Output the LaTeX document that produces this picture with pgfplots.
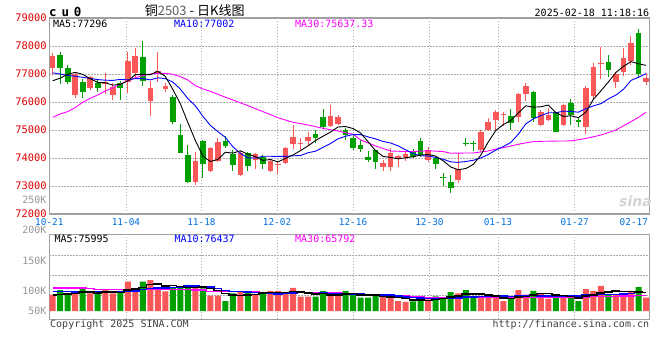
\documentclass[border=0pt]{standalone}
\usepackage{pgfplots}
\usepackage{pgfplotstable}
\pgfplotsset{compat=1.18}
\usepackage{fontspec}
\setmainfont{DejaVu Sans Mono}
\newfontfamily\cjk{Noto Sans CJK SC}
\newfontfamily\sinaf{DejaVu Sans}
\definecolor{cred}{RGB}{250,88,88}
\definecolor{cgreen}{RGB}{0,160,0}
\definecolor{lblred}{RGB}{224,0,0}
\definecolor{lblblue}{RGB}{0,112,224}
\definecolor{gridc}{RGB}{170,170,170}
\definecolor{framec}{RGB}{160,160,160}
\definecolor{volgray}{RGB}{150,150,150}
\definecolor{maten}{RGB}{0,0,255}
\definecolor{mathirty}{RGB}{255,0,255}
\definecolor{txtgray}{RGB}{64,64,64}

% OHLC, up days (close > open)
\pgfplotstableread{
i o h l c
0 77200 77760 76950 77640
3 76240 77030 76130 76990
5 76510 76930 76430 76880
7 76650 77020 76300 76700
8 76250 76670 76070 76550
10 76700 77800 76310 77480
11 77050 77920 76900 77640
13 76040 76750 75510 76510
14 76990 77770 76730 77110
15 76465 76670 76370 76570
19 73160 74230 73040 73900
21 73540 74410 73510 74350
22 73900 74730 73870 74560
25 73390 74250 73360 74190
27 73930 74170 73610 74130
29 73540 73930 73510 73900
30 73740 73870 73420 73770
31 73810 74410 73790 74350
32 74490 75180 74310 74750
33 74510 74730 74250 74550
34 74610 74940 74470 74740
37 75140 75890 75100 75500
38 75210 75540 75180 75450
44 73690 73930 73540 73810
45 73690 74350 73540 74190
46 74010 74110 73690 74070
47 74050 74230 73900 74140
50 73930 74410 73870 74290
54 73220 74170 73120 73610
57 74290 75000 74230 74940
58 75000 75420 74960 75300
59 75360 75720 75000 75660
60 75540 75660 75130 75560
62 75470 76330 75270 76280
63 76280 76670 76040 76580
65 75180 75720 75160 75630
66 75360 75800 75320 75540
68 75180 75920 75160 75890
71 75090 76570 74850 76510
72 76220 77400 76070 77260
73 77350 77980 76820 77380
75 76730 77080 76510 77000
76 77080 77920 76930 77580
77 77460 78370 77320 78120
79 76730 77020 76610 76850
}\redtab

% OHLC, down days (close < open)
\pgfplotstableread{
i o h l c
1 77680 77800 76630 77200
2 77230 77320 76630 76730
4 76720 76820 76130 76370
6 76690 76790 76370 76510
9 76690 76760 76070 76510
12 77600 78180 76580 76750
16 76180 76250 75220 75300
17 74820 75220 74190 74190
18 74110 74470 73100 73160
20 74610 74640 73300 73780
23 74610 74800 74350 74440
24 74130 74290 73540 73750
26 74170 74230 73540 73730
28 74050 74110 73610 73780
35 74860 75000 74530 74730
36 75450 75740 75060 75120
39 75000 75060 74640 74820
40 74730 74850 74290 74370
41 74470 74650 74230 74320
42 74040 74250 73870 73940
43 74290 74290 73610 73840
48 74200 74310 73990 74020
49 74610 74700 74050 74110
51 73990 74050 73610 73780
52 73320 73450 73010 73300
53 73160 73400 72760 72920
55 74550 74700 74440 74510
56 74530 74610 74250 74510
61 75510 75740 75000 75240
64 76360 76390 75300 75420
67 75630 75630 74920 74940
69 75950 76100 75180 75540
70 75360 75440 75120 75300
74 77440 77680 76900 77140
78 78480 78610 76870 76990
}\greentab

% volume (thousands)
\pgfplotstableread{
i v
0 67
3 72
5 72
7 89
8 72
10 120
11 89
13 127
14 98
15 80
19 96
21 63
22 63
25 80
27 70
29 82
30 82
31 72
32 95
33 59
34 59
37 64
38 62
44 58
45 55
46 41
47 37
50 48
54 72
57 55
58 55
59 55
60 41
62 86
63 67
65 69
66 51
68 55
71 90
72 82
73 103
75 69
76 73
77 82
79 55
}\redvol

\pgfplotstableread{
i v
1 86
2 69
4 91
6 69
9 82
12 120
16 96
17 98
18 107
20 93
23 41
24 72
26 75
28 72
35 59
36 82
39 82
40 70
41 55
42 55
43 64
48 39
49 55
51 60
52 51
53 77
55 86
56 59
61 52
64 82
67 62
69 58
70 41
74 69
78 98
}\greenvol

\pgfplotsset{
  candle/.style n args={2}{draw=none, no markers, forget plot,
    error bars/.cd, y dir=plus, y explicit, error mark=none,
    error bar style={draw=#1, solid, line width=#2}},
}

\begin{document}
\begin{tikzpicture}[x=1pt,y=1pt]
\path[use as bounding box] (0,0) rectangle (660,360);

% ---------------- price panel ----------------
\begin{axis}[
  at={(49.3pt,146pt)}, anchor=south west,
  scale only axis, width=600pt, height=196pt,
  xmin=-0.45, xmax=79.44, ymin=72000, ymax=79000,
  axis line style={framec, line width=1.1pt},
  major tick length=0pt,
  scaled y ticks=false, scaled x ticks=false,
  /pgf/number format/assume math mode=true,
  xtick={-0.45,9.76,19.81,29.87,39.99,50.17,59.29,69.51,77.38},
  xticklabels={10-21,11-04,11-18,12-02,12-16,12-30,01-13,01-27,02-17},
  xticklabel style={font=\fontsize{9.4}{10}\selectfont, text=lblblue, inner sep=0pt, anchor=north, yshift=-4pt},
  ytick={72000,73000,74000,75000,76000,77000,78000,79000},
  yticklabels={72000,73000,74000,75000,76000,77000,78000,79000},
  yticklabel style={font=\fontsize{10.4}{11}\selectfont, text=lblred, inner sep=0pt, anchor=east, xshift=-2.5pt},
  ymajorgrids,
  extra x ticks={9.76,19.81,29.87,39.99,50.17,59.29,69.51},
  extra x tick labels={},
  extra x tick style={grid=major},
  grid style={gridc, line width=0.8pt, dash pattern=on 1.3pt off 1.7pt},
]
% wicks
\addplot[candle={cred}{1pt}] table[x=i, y=l, y error plus expr=\thisrow{h}-\thisrow{l}] \redtab;
\addplot[candle={cgreen}{1pt}] table[x=i, y=l, y error plus expr=\thisrow{h}-\thisrow{l}] \greentab;
% bodies
\addplot[candle={cred}{5.6pt}] table[x=i, y=o, y error plus expr=\thisrow{c}-\thisrow{o}] \redtab;
\addplot[candle={cgreen}{5.6pt}] table[x=i, y=c, y error plus expr=\thisrow{o}-\thisrow{c}] \greentab;
% MA30
\addplot[mathirty, line width=0.9pt, mark=none] coordinates {
(0,75453)(1,75572)(2,75656)(3,75800)(4,75989)(5,76132)(6,76250)(7,76393)(8,76512)(9,76643)
(10,76750)(11,76870)(12,76940)(13,77000)(14,77024)(15,77024)(16,76990)(17,76905)(18,76786)(19,76584)
(20,76465)(21,76380)(22,76275)(23,76170)(24,76072)(25,75970)(26,75870)(27,75760)(28,75656)(29,75550)
(30,75440)(31,75355)(32,75275)(33,75230)(34,75180)(35,75120)(36,75060)(37,75010)(38,74965)(39,74900)
(40,74850)(41,74645)(42,74540)(43,74430)(44,74340)(45,74250)(46,74240)(47,74235)(48,74230)(49,74245)
(50,74260)(51,74245)(52,74230)(53,74170)(54,74175)(55,74178)(56,74180)(57,74215)(58,74250)(59,74320)
(60,74370)(61,74430)(62,74490)(63,74540)(64,74585)(65,74595)(66,74600)(67,74605)(68,74608)(69,74610)
(70,74655)(71,74700)(72,74760)(73,74820)(74,74910)(75,75000)(76,75150)(77,75300)(78,75450)(79,75637)
};
% MA10
\addplot[maten, line width=0.9pt, mark=none] coordinates {
(0,77040)(1,77000)(2,76950)(3,76920)(4,76880)(5,76840)(6,76800)(7,76780)(8,76770)(9,76808)
(10,76792)(11,76836)(12,76838)(13,76790)(14,76864)(15,76833)(16,76712)(17,76461)(18,76122)(19,75861)
(20,75491)(21,75162)(22,74943)(23,74736)(24,74400)(25,74162)(26,74005)(27,73999)(28,74061)(29,74061)
(30,74060)(31,74060)(32,74079)(33,74090)(34,74189)(35,74243)(36,74382)(37,74519)(38,74686)(39,74778)
(40,74838)(41,74835)(42,74754)(43,74683)(44,74590)(45,74536)(46,74431)(47,74295)(48,74152)(49,74081)
(50,74073)(51,74019)(52,73955)(53,73863)(54,73843)(55,73875)(56,73919)(57,73999)(58,74127)(59,74282)
(60,74409)(61,74555)(62,74853)(63,75219)(64,75400)(65,75512)(66,75615)(67,75615)(68,75674)(69,75662)
(70,75636)(71,75763)(72,75861)(73,75941)(74,76113)(75,76250)(76,76454)(77,76772)(78,76882)(79,77013)
};
% MA5
\addplot[black, line width=0.9pt, mark=none] coordinates {
(0,76760)(1,76850)(2,76990)(3,77060)(4,76986)(5,76834)(6,76696)(7,76690)(8,76602)(9,76630)
(10,76750)(11,76976)(12,76986)(13,76978)(14,77098)(15,76916)(16,76448)(17,75936)(18,75266)(19,74624)
(20,74066)(21,73876)(22,73950)(23,74206)(24,74176)(25,74258)(26,74134)(27,74048)(28,73916)(29,73946)
(30,73862)(31,73986)(32,74110)(33,74264)(34,74432)(35,74624)(36,74778)(37,74928)(38,75108)(39,75124)
(40,75052)(41,74892)(42,74580)(43,74258)(44,74056)(45,74020)(46,73970)(47,74010)(48,74046)(49,74106)
(50,74126)(51,74068)(52,73900)(53,73680)(54,73580)(55,73624)(56,73770)(57,74098)(58,74574)(59,74984)
(60,75194)(61,75340)(62,75608)(63,75864)(64,75816)(65,75830)(66,75890)(67,75622)(68,75484)(69,75508)
(70,75442)(71,75636)(72,76100)(73,76398)(74,76718)(75,77058)(76,77272)(77,77444)(78,77366)(79,77308)
};
\end{axis}

% ---------------- volume panel ----------------
\begin{axis}[
  at={(49.3pt,40.7pt)}, anchor=south west,
  scale only axis, width=600pt, height=85pt,
  xmin=-0.45, xmax=79.44, ymin=-34, ymax=314.3,
  axis line style={framec, line width=1.1pt},
  major tick length=0pt,
  scaled y ticks=false, scaled x ticks=false,
  xtick=\empty, ytick=\empty,
  extra x ticks={9.76,19.81,29.87,39.99,50.17,59.29,69.51},
  extra x tick labels={},
  extra x tick style={grid=major},
  extra y ticks={63.5,146.3,229.5},
  extra y tick labels={},
  extra y tick style={grid=major},
  grid style={gridc, line width=0.8pt, dash pattern=on 1.3pt off 1.7pt},
]
\addplot[ybar, bar width=6pt, bar shift=0pt, fill=cred, draw=none] table[x=i, y=v] \redvol;
\addplot[ybar, bar width=6pt, bar shift=0pt, fill=cgreen, draw=none] table[x=i, y=v] \greenvol;
% volume MA30
\addplot[mathirty, line width=1.5pt, mark=none, const plot mark mid] coordinates {
(0,95)(1,95)(2,95)(3,95)(4,94)(5,92)(6,89)(7,89)(8,89)(9,89)
(10,89)(11,89)(12,89)(13,89)(14,89)(15,89)(16,88)(17,88)(18,88)(19,87)
(20,86)(21,80)(22,80)(23,79)(24,79)(25,79)(26,78)(27,77)(28,76)(29,76)
(30,76)(31,76)(32,76)(33,76)(34,76)(35,76)(36,75)(37,75)(38,74)(39,72)
(40,71)(41,66)(42,66)(43,65)(44,65)(45,62)(46,62)(47,61)(48,60)(49,57)
(50,56)(51,56)(52,56)(53,56)(54,56)(55,56)(56,56)(57,56)(58,56)(59,56)
(60,56)(61,56)(62,56)(63,56)(64,56)(65,56)(66,56)(67,56)(68,56)(69,56)
(70,57)(71,58)(72,59)(73,59)(74,60)(75,60)(76,61)(77,62)(78,63)(79,64)
};
% volume MA10
\addplot[maten, line width=1.5pt, mark=none, const plot mark mid] coordinates {
(0,79)(1,79)(2,79)(3,78)(4,78)(5,78)(6,77)(7,77)(8,77)(9,76.9)
(10,82.2)(11,82.5)(12,87.6)(13,93.1)(14,93.8)(15,94.6)(16,97.3)(17,98.2)(18,101.7)(19,103.1)
(20,100.4)(21,97.8)(22,92.1)(23,83.5)(24,80.9)(25,80.9)(26,78.8)(27,76.0)(28,72.5)(29,71.1)
(30,70.0)(31,70.9)(32,74.1)(33,75.9)(34,74.6)(35,72.5)(36,73.2)(37,72.6)(38,71.6)(39,71.6)
(40,70.4)(41,68.7)(42,64.7)(43,65.2)(44,65.1)(45,64.7)(46,60.6)(47,57.9)(48,55.6)(49,52.9)
(50,50.7)(51,51.2)(52,50.8)(53,52.1)(54,53.5)(55,56.6)(56,58.4)(57,60.2)(58,61.8)(59,61.8)
(60,61.1)(61,60.3)(62,63.8)(63,62.8)(64,63.8)(65,62.1)(66,61.3)(67,62.0)(68,62.0)(69,62.3)
(70,62.3)(71,66.1)(72,65.7)(73,69.3)(74,68.0)(75,68.0)(76,70.2)(77,72.2)(78,76.5)(79,76.2)
};
% volume MA5
\addplot[black, line width=1.5pt, mark=none, const plot mark mid] coordinates {
(0,66)(1,67)(2,70)(3,72)(4,77.0)(5,78.0)(6,74.6)(7,78.6)(8,78.6)(9,76.8)
(10,86.4)(11,90.4)(12,96.6)(13,107.6)(14,110.8)(15,102.8)(16,104.2)(17,99.8)(18,95.8)(19,95.4)
(20,98.0)(21,91.4)(22,84.4)(23,71.2)(24,66.4)(25,63.8)(26,66.2)(27,67.6)(28,73.8)(29,75.8)
(30,76.2)(31,75.6)(32,80.6)(33,78.0)(34,73.4)(35,68.8)(36,70.8)(37,64.6)(38,65.2)(39,69.8)
(40,72.0)(41,66.6)(42,64.8)(43,65.2)(44,60.4)(45,57.4)(46,54.6)(47,51.0)(48,46.0)(49,45.4)
(50,44.0)(51,47.8)(52,50.6)(53,58.2)(54,61.6)(55,69.2)(56,69.0)(57,69.8)(58,65.4)(59,62.0)
(60,53.0)(61,51.6)(62,57.8)(63,60.2)(64,65.6)(65,71.2)(66,71.0)(67,66.2)(68,63.8)(69,59.0)
(70,53.4)(71,61.2)(72,65.2)(73,74.8)(74,77.0)(75,82.6)(76,79.2)(77,79.2)(78,78.2)(79,75.4)
};
\end{axis}

% ---------------- texts ----------------
\node[anchor=base west, inner sep=0pt, font=\fontsize{12.5}{13}\selectfont\bfseries] at (49,344) {c\hspace{4.8pt}u\hspace{4.8pt}0};
\node[anchor=base, inner sep=0pt, font=\fontsize{13}{14}\selectfont] at (194.7,345) {\cjk 铜{\color[RGB]{90,90,90}2503}\hspace{3pt}-\hspace{3pt}日K线图};
\node[anchor=base east, inner sep=0pt, font=\fontsize{10}{11}\selectfont] at (649.3,344) {2025-02-18 11:18:16};

\node[anchor=base west, inner sep=0pt, font=\fontsize{10}{11}\selectfont] at (53,332.7) {MA5:77296};
\node[anchor=base west, inner sep=0pt, font=\fontsize{10}{11}\selectfont, text=maten] at (174,332.7) {MA10:77002};
\node[anchor=base west, inner sep=0pt, font=\fontsize{10}{11}\selectfont, text=mathirty] at (295,332.7) {MA30:75637.33};

\node[anchor=base west, inner sep=0pt, font=\fontsize{10}{11}\selectfont] at (54.3,117.7) {MA5:75995};
\node[anchor=base west, inner sep=0pt, font=\fontsize{10}{11}\selectfont, text=maten] at (174.3,117.7) {MA10:76437};
\node[anchor=base west, inner sep=0pt, font=\fontsize{10}{11}\selectfont, text=mathirty] at (295,117.7) {MA30:65792};

\foreach \lab/\yy in {250K/160.3, 200K/129.7, 150K/99.3, 100K/69.2, 50K/48.7}{
  \node[anchor=east, inner sep=0pt, font=\fontsize{10}{11}\selectfont, text=volgray] at (46.7,\yy) {\lab};
}

\node[anchor=base west, inner sep=0pt, font=\fontsize{10}{11}\selectfont, text=txtgray] at (50,32.5) {Copyright 2025 SINA.COM};
\node[anchor=base east, inner sep=0pt, font=\fontsize{10}{11}\selectfont, text=txtgray] at (649.3,32.5) {http://finance.sina.com.cn};

\node[inner sep=0pt, font=\sinaf\fontsize{14}{15}\selectfont\bfseries\itshape, text=gray!35] at (635.5,159) {sina};
\end{tikzpicture}
\end{document}
